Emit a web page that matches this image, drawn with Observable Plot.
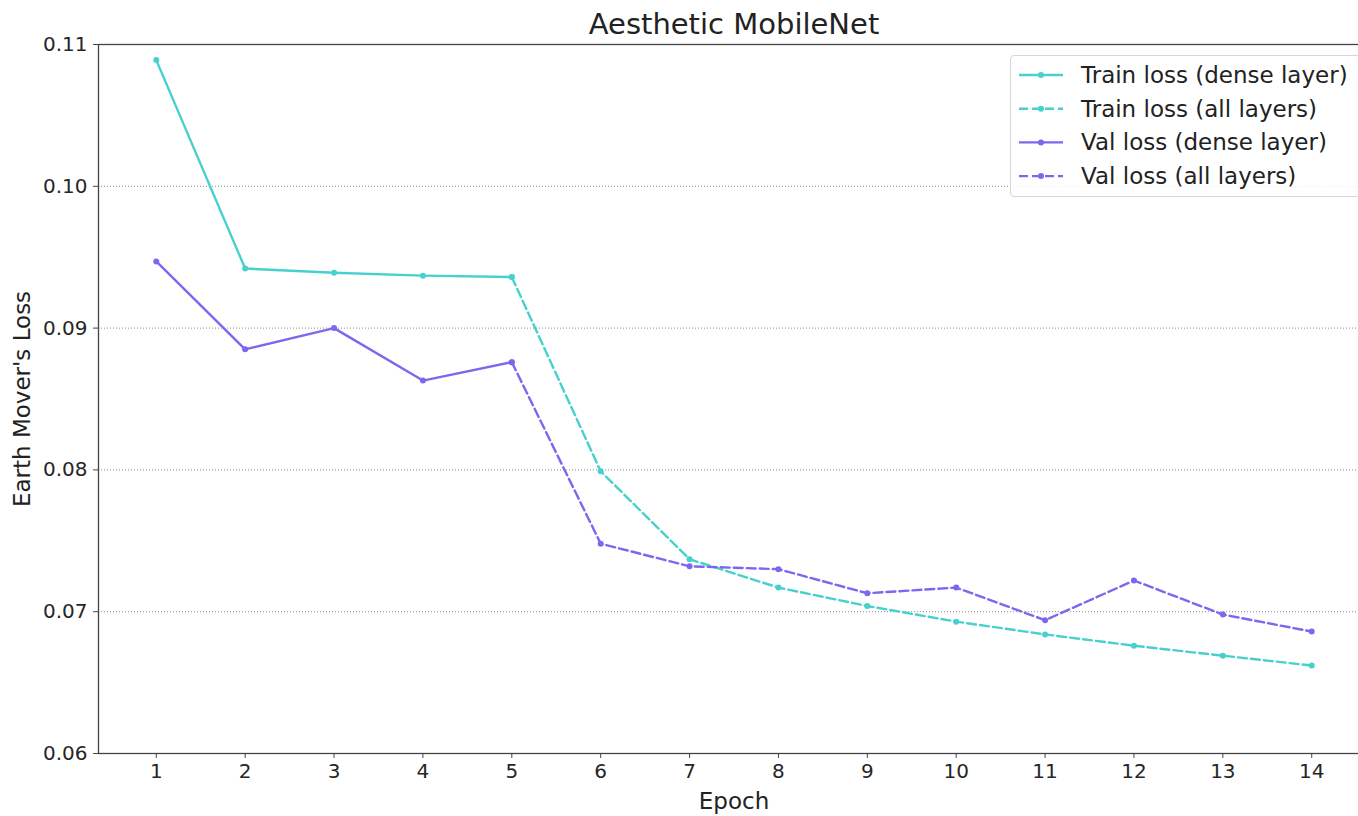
<!DOCTYPE html>
<html>
<head>
<meta charset="utf-8">
<script src="https://cdn.jsdelivr.net/npm/d3@7"></script>
<script src="https://cdn.jsdelivr.net/npm/@observablehq/plot@0.6"></script>
<style>
  html, body { margin: 0; padding: 0; background: white; overflow: hidden; }
  #wrap { position: relative; width: 1358px; height: 816px; overflow: hidden; font-family: "DejaVu Sans", sans-serif; }
  #wrap > svg { max-width: none !important; width: 1369px !important; height: 816px !important; display: block; }
  #legend { position: absolute; left: 1010px; top: 55px; width: 360px; height: 142px;
            border: 1px solid #d6d6d6; border-radius: 4px; background: rgba(255,255,255,0.85); box-sizing: border-box; }
</style>
</head>
<body>
<div id="wrap"></div>
<script>
const title = "Aesthetic MobileNet";
const xLabel = "Epoch";
const yLabel = "Earth Mover's Loss";
const epochs = [1,2,3,4,5,6,7,8,9,10,11,12,13,14];
const trainLoss = [0.1089,0.0942,0.0939,0.0937,0.0936,0.0799,0.0737,0.0717,0.0704,0.0693,0.0684,0.0676,0.0669,0.0662];
const valLoss   = [0.0947,0.0885,0.0900,0.0863,0.0876,0.0748,0.0732,0.0730,0.0713,0.0717,0.0694,0.0722,0.0698,0.0686];
const switchEpoch = 5; // dense-layer training until epoch 5, then all layers
const yTicks = [0.06,0.07,0.08,0.09,0.10,0.11];
const gridTicks = [0.07,0.08,0.09,0.10];
const seriesNames = ["Train loss (dense layer)","Train loss (all layers)","Val loss (dense layer)","Val loss (all layers)"];
const colors = ["#48D1CC","#48D1CC","#7B68EE","#7B68EE"];
const dashes = [null,"9,4",null,"9,4"];

function rows(values, phase) {
  return epochs.map((e,i)=>({epoch:e, loss:values[i]}))
    .filter(d => phase === "dense" ? d.epoch <= switchEpoch : d.epoch >= switchEpoch);
}
const series = [
  rows(trainLoss,"dense"), rows(trainLoss,"all"),
  rows(valLoss,"dense"), rows(valLoss,"all")
];

const lineMarks = [];
series.forEach((data,i)=>{
  lineMarks.push(Plot.line(data,{x:"epoch",y:"loss",stroke:colors[i],strokeWidth:2.4,strokeDasharray:dashes[i]}));
});
series.forEach((data,i)=>{
  lineMarks.push(Plot.dot(data,{x:"epoch",y:"loss",fill:colors[i],r:3,stroke:"none"}));
});

const chart = Plot.plot({
  width: 1369, height: 816,
  marginLeft: 98, marginRight: 0, marginTop: 44, marginBottom: 63,
  x: {domain:[0.35,14.65]},
  y: {domain:[0.06,0.11]},
  style: {fontFamily:"DejaVu Sans, sans-serif", color:"#262626", background:"white", overflow:"visible"},
  marks: [
    Plot.gridY(gridTicks,{stroke:"#8a8a8a",strokeOpacity:1,strokeWidth:1,strokeDasharray:"1,2"}),
    ...lineMarks,
    Plot.frame({stroke:"#444",strokeWidth:1.3}),
    Plot.axisX(epochs,{tickSize:5,tickPadding:5,fontSize:20,tickFormat:d=>String(d),label:null,stroke:"#444"}),
    Plot.axisY(yTicks,{tickSize:5,tickPadding:6,fontSize:20,tickFormat:d=>d.toFixed(2),label:null,stroke:"#444"}),
    Plot.text([xLabel],{frameAnchor:"bottom",lineAnchor:"middle",dy:48,fontSize:23,fill:"#222"}),
    Plot.text([yLabel],{frameAnchor:"left",textAnchor:"middle",lineAnchor:"middle",dx:-76,rotate:-90,fontSize:23,fill:"#222"}),
    Plot.text([title],{frameAnchor:"top",lineAnchor:"middle",dy:-20,fontSize:29,fill:"#222"})
  ]
});
const wrap = document.getElementById("wrap");
wrap.appendChild(chart);

// legend
const leg = document.createElement("div");
leg.id = "legend";
wrap.appendChild(leg);
const svg = d3.select(leg).append("svg").attr("width",358).attr("height",140);
seriesNames.forEach((name,i)=>{
  const cy = 19 + i*33.7;
  const g = svg.append("g");
  g.append("line").attr("x1",8).attr("x2",52).attr("y1",cy).attr("y2",cy)
    .attr("stroke",colors[i]).attr("stroke-width",2.4).attr("stroke-dasharray",dashes[i]);
  g.append("circle").attr("cx",30).attr("cy",cy).attr("r",3).attr("fill",colors[i]);
  g.append("text").attr("x",70).attr("y",cy).attr("dy","0.35em")
    .attr("font-family","DejaVu Sans, sans-serif").attr("font-size",23).attr("fill","#222").text(name);
});
</script>
</body>
</html>
